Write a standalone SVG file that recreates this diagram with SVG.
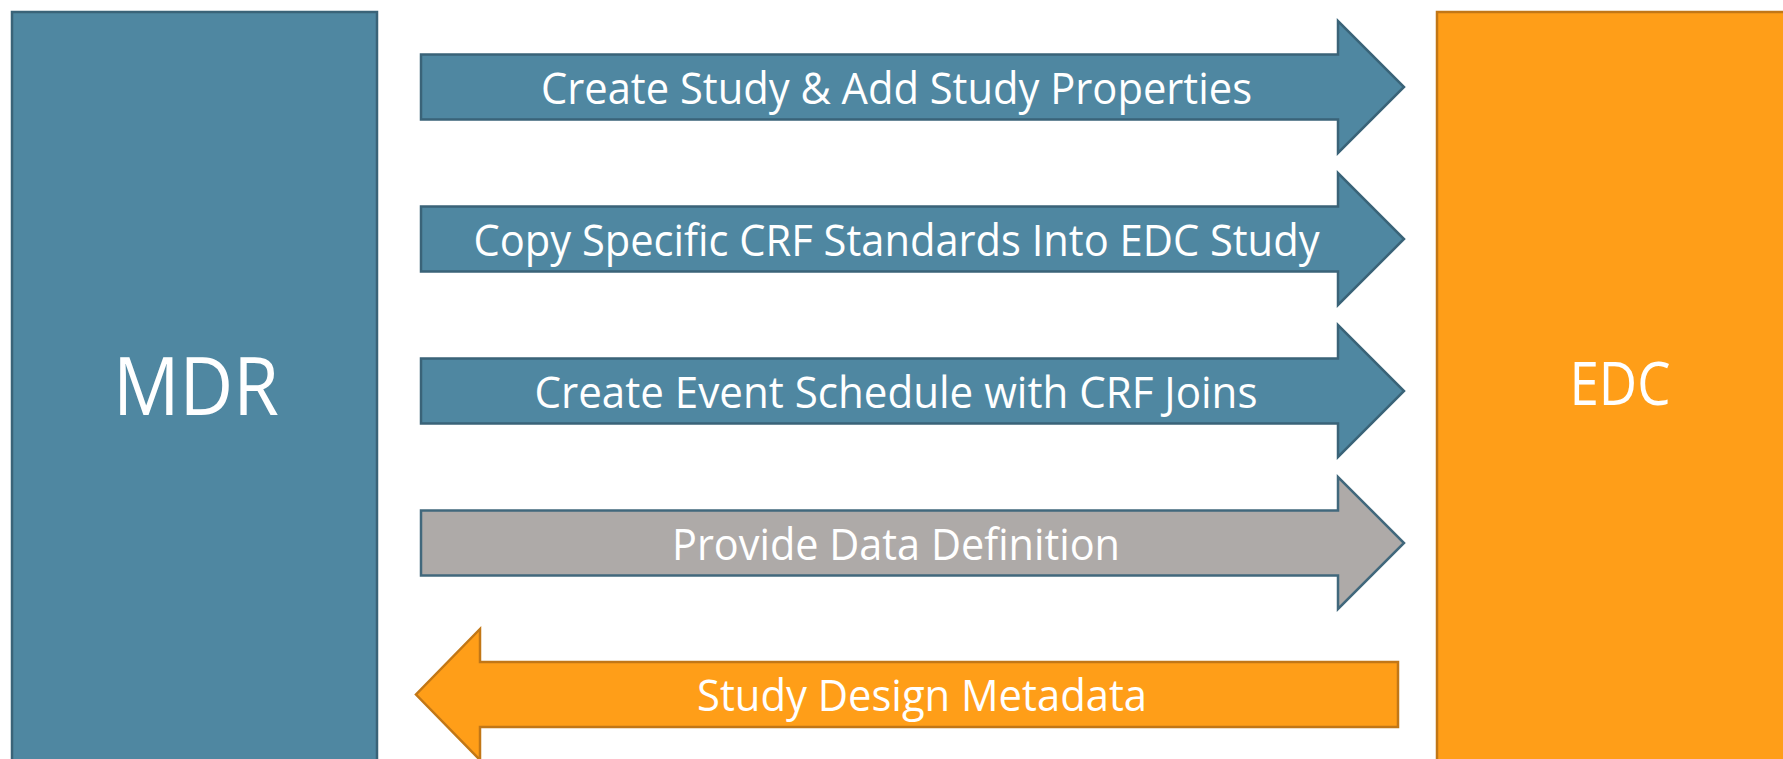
<svg xmlns="http://www.w3.org/2000/svg" width="1783" height="759" viewBox="0 0 1783 759">
<style>
.blue{fill:#4F87A1;stroke:#3A6378;stroke-width:2.5}
.orange{fill:#FF9E18;stroke:#C27716;stroke-width:2.5}
.gray{fill:#AEAAA8;stroke:#41687C;stroke-width:2.5}
text{font-family:"Open Sans","Noto Sans",sans-serif;fill:#FFFFFF;text-anchor:middle}
.lbl{font-size:44px}
</style>
<g id="MDR">
<rect class="blue" x="12" y="12" width="365" height="800"/>
<text x="196" y="415" font-size="81" textLength="166" lengthAdjust="spacingAndGlyphs">MDR</text>
</g>
<g id="EDC">
<rect class="orange" x="1437" y="12" width="400" height="800"/>
<text x="1620" y="405" font-size="60" textLength="101" lengthAdjust="spacingAndGlyphs">EDC</text>
</g>
<g id="connectors">
<g id="arrow1">
<path class="blue" d="M421,54.5 H1338 V21 L1404,87 L1338,153 V119.5 H421 Z"/>
<text class="lbl" x="896.5" y="104" textLength="711" lengthAdjust="spacingAndGlyphs">Create Study &amp; Add Study Properties</text>
</g>
<g id="arrow2">
<path class="blue" d="M421,206.5 H1338 V173 L1404,239 L1338,305 V271.5 H421 Z"/>
<text class="lbl" x="896.5" y="256" textLength="846" lengthAdjust="spacingAndGlyphs">Copy Specific CRF Standards Into EDC Study</text>
</g>
<g id="arrow3">
<path class="blue" d="M421,358.5 H1338 V325 L1404,391 L1338,457 V423.5 H421 Z"/>
<text class="lbl" x="896" y="408" textLength="723" lengthAdjust="spacingAndGlyphs">Create Event Schedule with CRF Joins</text>
</g>
<g id="arrow4">
<path class="gray" d="M421,510.5 H1338 V477 L1404,543 L1338,609 V575.5 H421 Z"/>
<text class="lbl" x="896" y="560" textLength="448" lengthAdjust="spacingAndGlyphs">Provide Data Definition</text>
</g>
<g id="arrow5">
<path class="orange" d="M1398,662 H480 V629 L416,694.5 L480,760 V727 H1398 Z"/>
<text class="lbl" x="922" y="711" textLength="450" lengthAdjust="spacingAndGlyphs">Study Design Metadata</text>
</g>
</g>
</svg>
